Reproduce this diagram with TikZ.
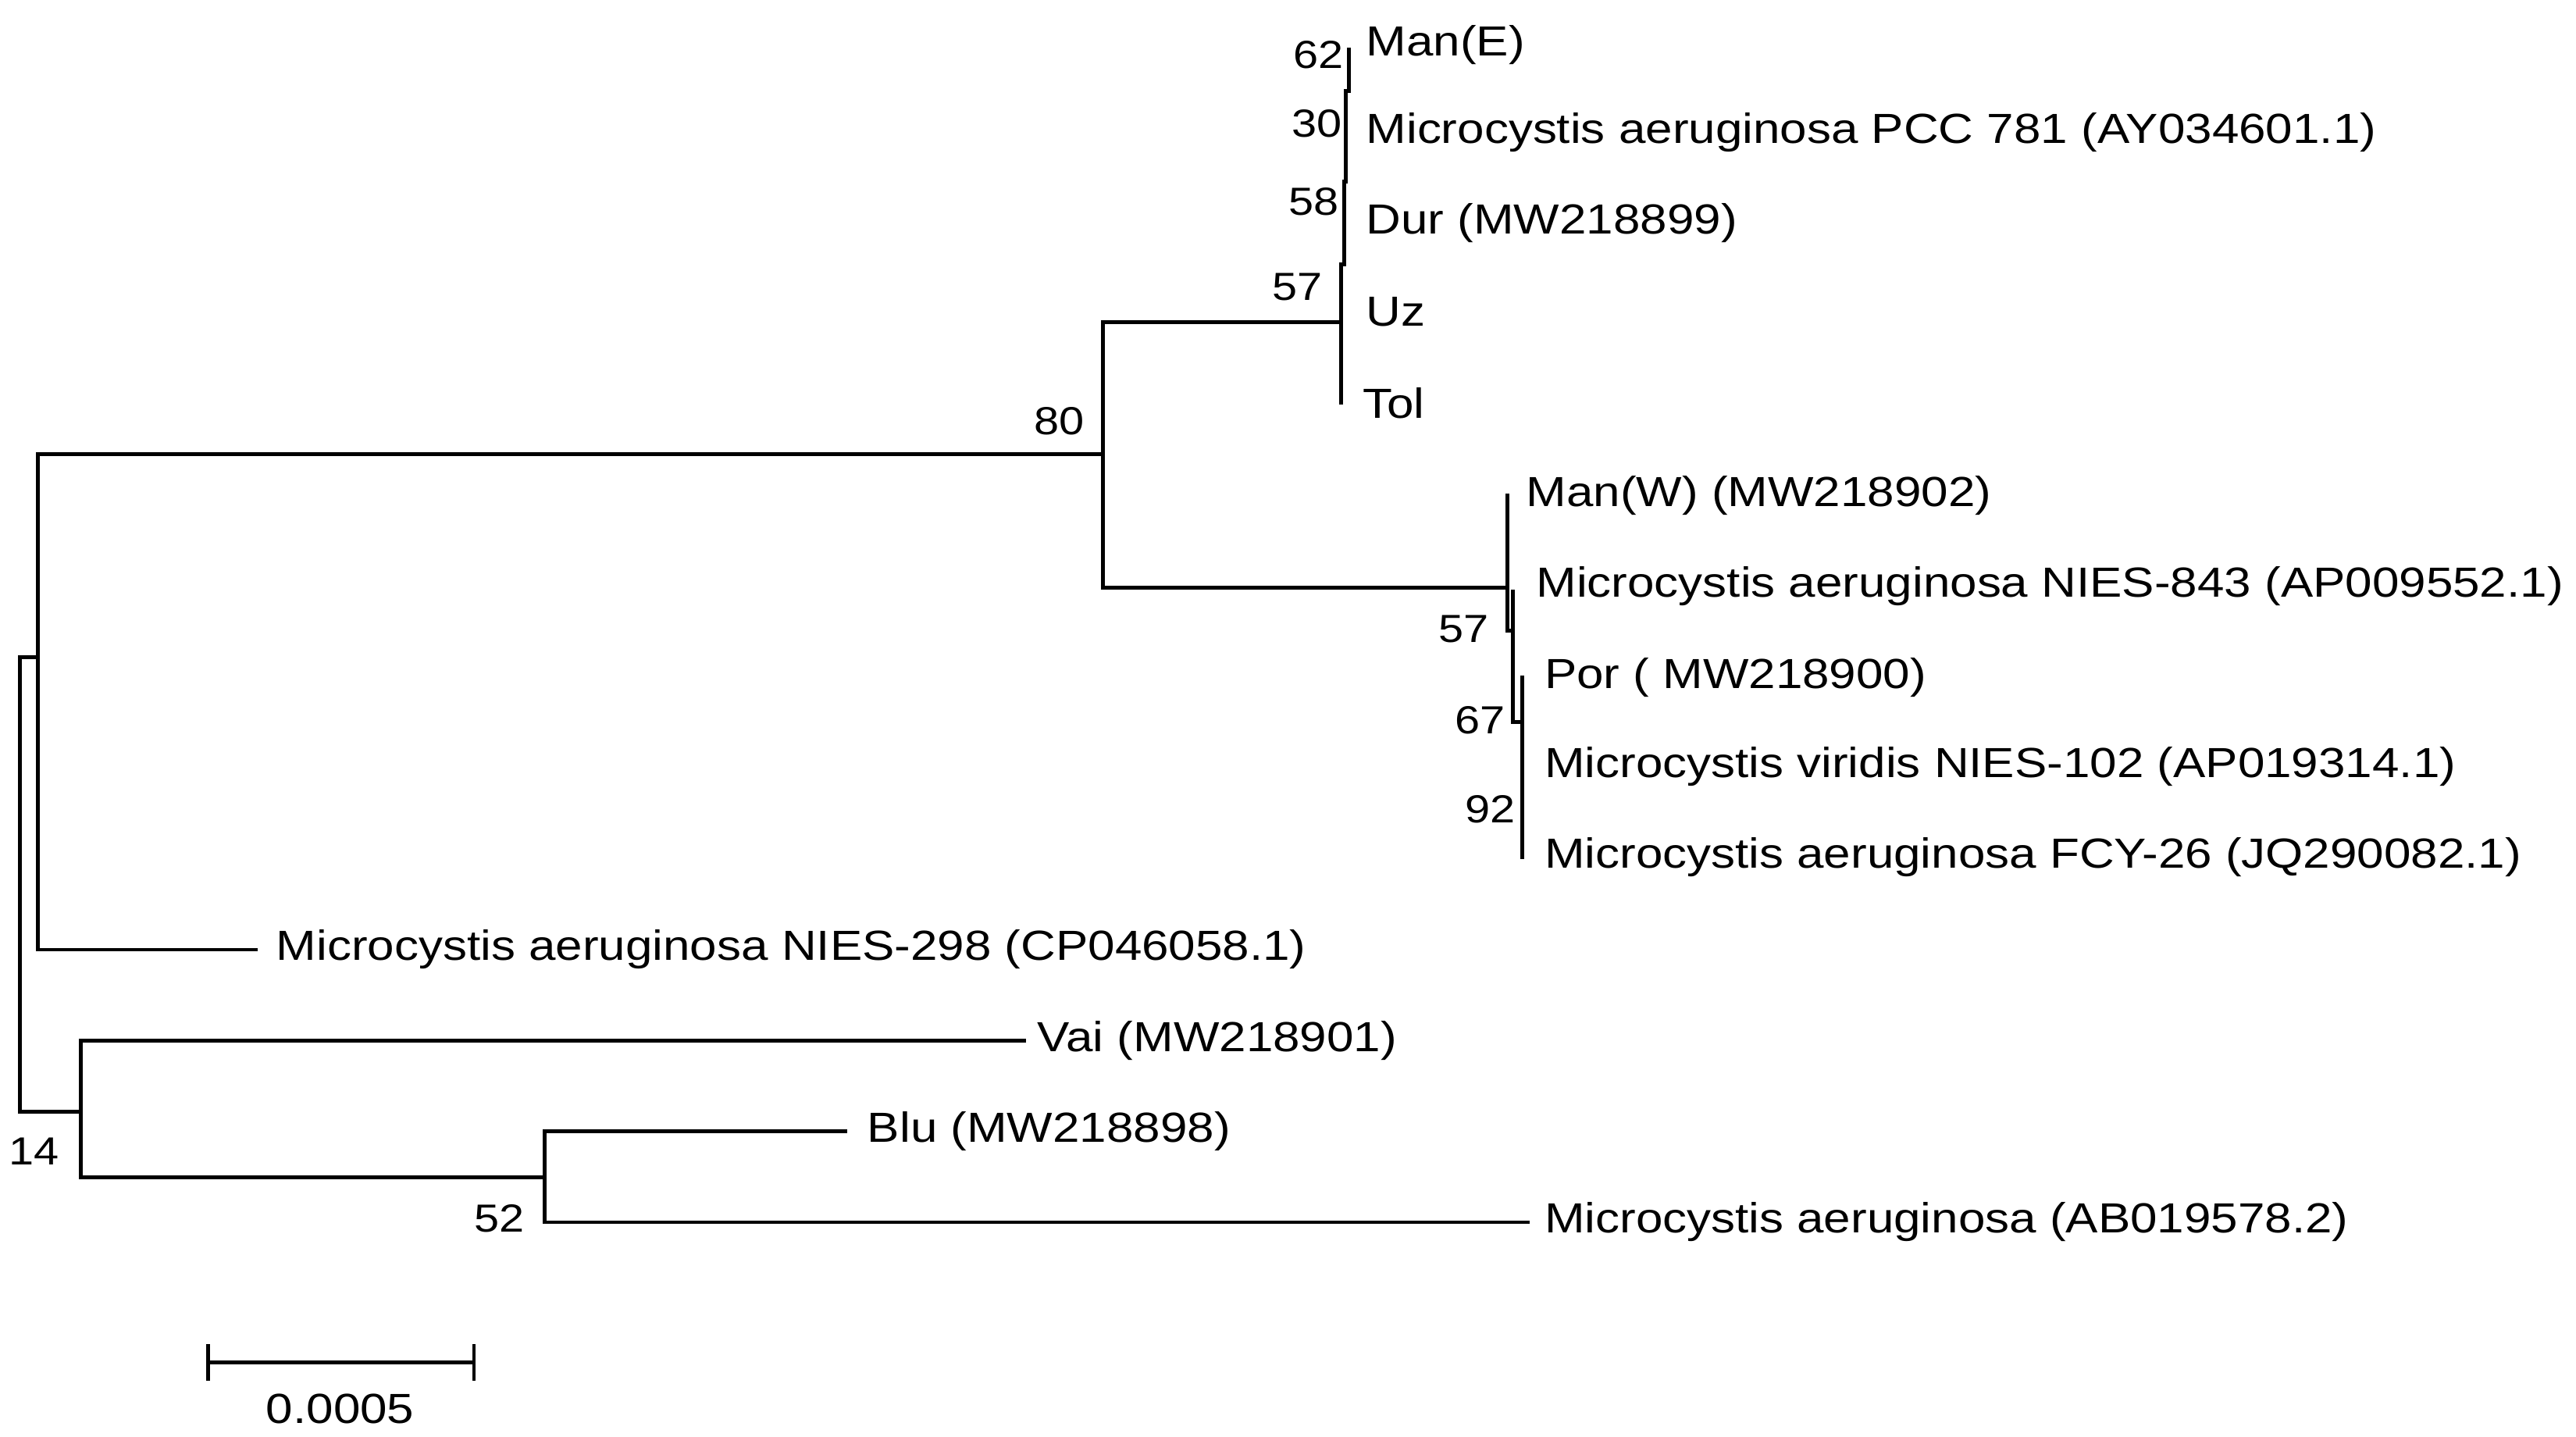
\documentclass[tikz,border=0pt]{standalone}
\usepackage{fontspec}
\setmainfont{Liberation Sans}
\newfontfamily\widesans[FakeStretch=1.15]{Liberation Sans}
\begin{document}
\begin{tikzpicture}[x=0.02cm,y=-0.02cm,
  br/.style={line width=1.3pt,line cap=rect},
  lab/.style={anchor=west,inner sep=0pt,font=\widesans\fontsize{14.5}{16}\selectfont},
  bs/.style={anchor=east,inner sep=0pt,font=\widesans\fontsize{13.5}{15}\selectfont}]
\useasboundingbox (0,0) rectangle (1560,870);
% leaf labels
\node[lab] (manE) at (827,27) {Man(E)};
\node[lab] (pcc) at (827,80) {Microcystis aeruginosa PCC 781 (AY034601.1)};
\node[lab] (dur) at (827,135) {Dur (MW218899)};
\node[lab] (uz) at (827,189) {Uz};
\node[lab] (tol) at (825,244) {Tol};
\node[lab] (manW) at (924,300) {Man(W) (MW218902)};
\node[lab] (n843) at (930,355) {Microcystis aeruginosa NIES-843 (AP009552.1)};
\node[lab] (por) at (935,410) {Por ( MW218900)};
\node[lab] (vir) at (935,464) {Microcystis viridis NIES-102 (AP019314.1)};
\node[lab] (fcy) at (935,519) {Microcystis aeruginosa FCY-26 (JQ290082.1)};
\node[lab] (n298) at (167,575) {Microcystis aeruginosa NIES-298 (CP046058.1)};
\node[lab] (vai) at (628,630) {Vai (MW218901)};
\node[lab] (blu) at (525,685) {Blu (MW218898)};
\node[lab] (ab) at (935,740) {Microcystis aeruginosa (AB019578.2)};
% internal coordinates
\coordinate (root) at (12,398);
\coordinate (A) at (23,398);
\coordinate (B) at (49,673);
\coordinate (C) at (330,713);
\coordinate (n80) at (668,275);
\coordinate (n57) at (812,195);
\coordinate (n57b) at (913,356);
\coordinate (e298) at (155,575);
\coordinate (evai) at (620,630);
\coordinate (eblu) at (512,685);
\coordinate (eab) at (925,740);
% root
\draw[br] (12,398) -- (12,673);
\draw[br] (root) -- (A);
\draw[br] (12,673) -- (B);
% A
\draw[br] (23,275) -- (23,575);
\draw[br] (23,275) -- (n80);
\draw[br] (23,575) -- (e298);
% node 80
\draw[br] (668,195) -- (668,356);
\draw[br] (668,195) -- (n57);
\draw[br] (668,356) -- (n57b);
% top cluster
\draw[br] (812,160) -- (812,244);
\draw[br] (814,110) -- (814,160);
\draw[br] (815,55) -- (815,110);
\draw[br] (817,30) -- (817,55);
% lower cluster
\draw[br] (913,300) -- (913,382);
\draw[br] (913,382) -- (916,382);
\draw[br] (916,358) -- (916,437);
\draw[br] (916,437) -- (922,437);
\draw[br] (922,410) -- (922,519);
% B
\draw[br] (49,630) -- (49,713);
\draw[br] (49,630) -- (evai);
\draw[br] (49,713) -- (C);
\draw[br] (330,685) -- (330,740);
\draw[br] (330,685) -- (eblu);
\draw[br] (330,740) -- (eab);
% bootstrap
\node[bs] (b62) at (814,33) {62};
\node[bs] (b30) at (813,75) {30};
\node[bs] (b58) at (811,122) {58};
\node[bs] (b57) at (801,174) {57};
\node[bs] (b80) at (657,255) {80};
\node[bs] (b57b) at (902,381) {57};
\node[bs] (b67) at (912,436) {67};
\node[bs] (b92) at (918,490) {92};
\node[bs] (b14) at (36,697) {14};
\node[bs] (b52) at (318,738) {52};
% scale bar
\coordinate (s1) at (126,825);
\coordinate (s2) at (287,825);
\draw[br] (s1) -- (s2);
\draw[br] (126,815) -- (126,835);
\draw[br] (287,815) -- (287,835);
\node[inner sep=0pt,font=\widesans\fontsize{14.5}{16}\selectfont] (scl) at (206,853) {0.0005};
\end{tikzpicture}
\end{document}
